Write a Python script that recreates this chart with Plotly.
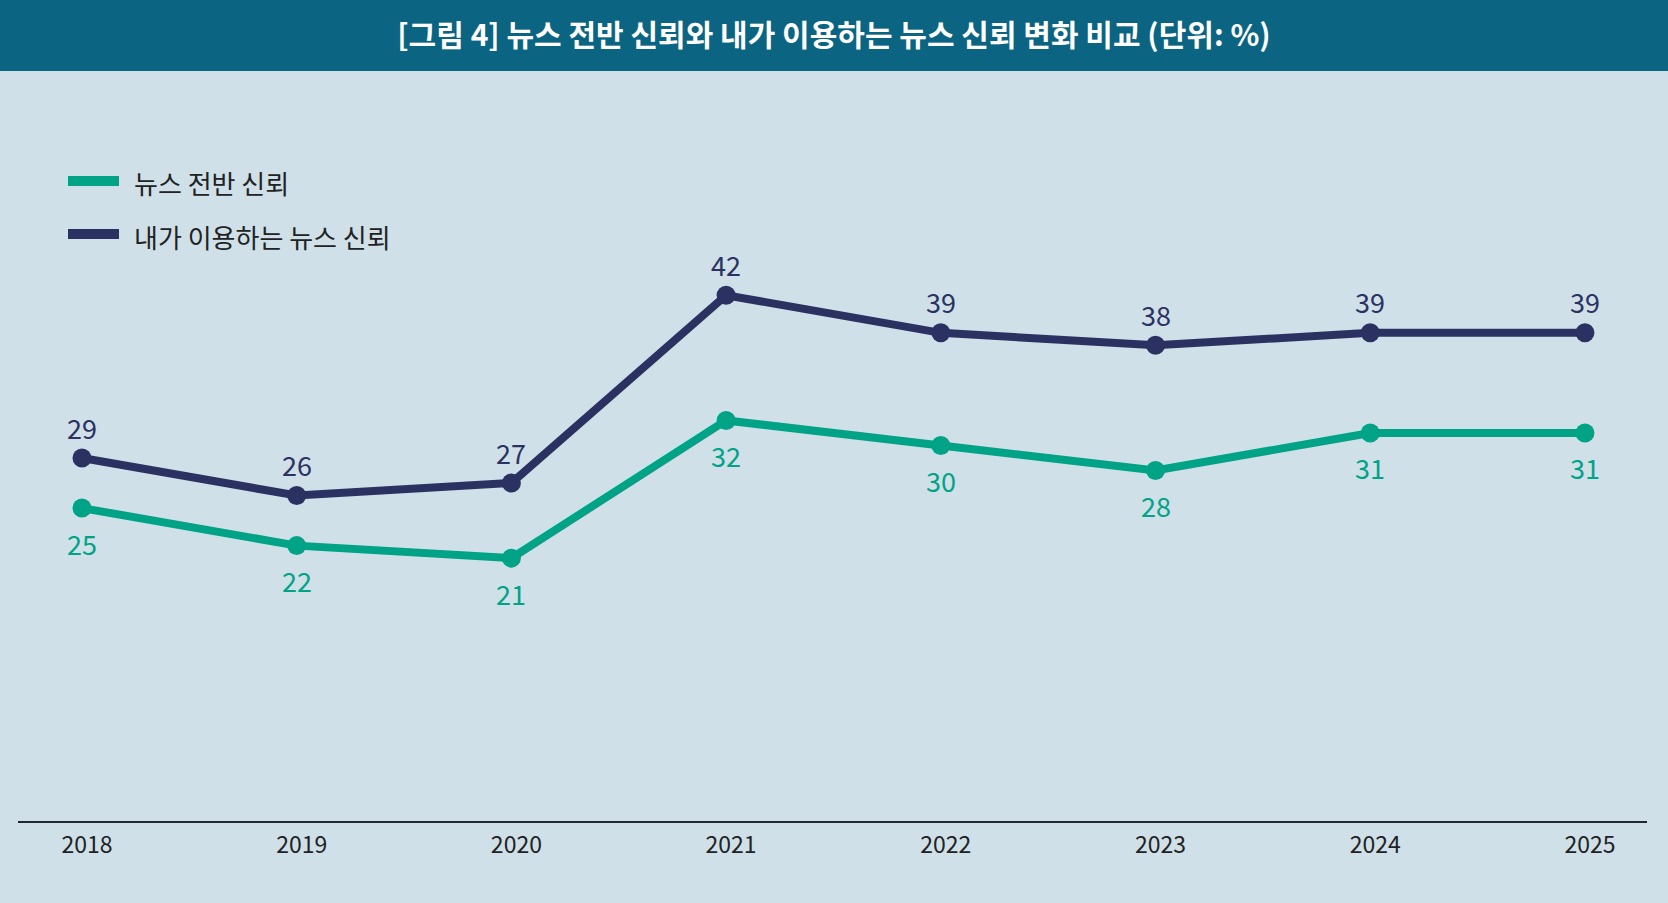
import plotly.graph_objects as go

# 데이터
years = [2018, 2019, 2020, 2021, 2022, 2023, 2024, 2025]
overall_trust = [25, 22, 21, 32, 30, 28, 31, 31]
my_news_trust = [29, 26, 27, 42, 39, 38, 39, 39]

series_names = ["뉴스 전반 신뢰", "내가 이용하는 뉴스 신뢰"]
title_text = "[그림 4] 뉴스 전반 신뢰와 내가 이용하는 뉴스 신뢰 변화 비교 (단위: %)"

GREEN = "#00a386"
NAVY = "#2b3262"
BG = "#cfe0e8"
HEADER = "#0b6481"
FONT = "Noto Sans CJK KR"

W, H = 1668, 903
L, R, T, B = 18, 21, 100, 82


def px_x(p):
    # 픽셀 -> paper 좌표 (가로)
    return (p - L) / (W - L - R)


def px_y(p):
    # 픽셀 -> paper 좌표 (세로)
    return (H - B - p) / (H - T - B)


fig = go.Figure()

fig.add_trace(go.Scatter(
    x=years, y=overall_trust, mode="lines+markers",
    name=series_names[0], showlegend=False,
    line=dict(color=GREEN, width=8),
    marker=dict(color=GREEN, size=19),
    cliponaxis=False,
))

fig.add_trace(go.Scatter(
    x=years, y=my_news_trust, mode="lines+markers",
    name=series_names[1], showlegend=False,
    line=dict(color=NAVY, width=8),
    marker=dict(color=NAVY, size=19),
    cliponaxis=False,
))

# 값 레이블
for yr, v in zip(years, overall_trust):
    fig.add_annotation(x=yr, y=v, text=str(v), showarrow=False, yshift=-35,
                       font=dict(family=FONT, size=27, color=GREEN))
for yr, v in zip(years, my_news_trust):
    fig.add_annotation(x=yr, y=v, text=str(v), showarrow=False, yshift=31,
                       font=dict(family=FONT, size=27, color=NAVY))

# 상단 헤더 띠
fig.add_shape(type="rect", xref="paper", yref="paper",
              x0=-0.1, x1=1.1, y0=px_y(71), y1=1.3,
              fillcolor=HEADER, line=dict(width=0), layer="below")

# 범례 (수동)
for name, color, yp in [(series_names[0], GREEN, 181), (series_names[1], NAVY, 234)]:
    fig.add_shape(type="line", xref="paper", yref="paper",
                  x0=px_x(68), x1=px_x(119), y0=px_y(yp), y1=px_y(yp),
                  line=dict(color=color, width=10))
    fig.add_annotation(text=name, xref="paper", yref="paper",
                       x=px_x(132), y=px_y(yp + 2), xanchor="left", yanchor="middle",
                       showarrow=False, font=dict(family=FONT, size=26, color="#222222"))

fig.update_layout(
    width=W, height=H,
    margin=dict(l=L, r=R, t=T, b=B),
    paper_bgcolor=BG, plot_bgcolor=BG,
    title=dict(text=title_text, x=0.5, xanchor="center", xref="container",
               y=1 - 35 / H, yanchor="middle",
               font=dict(family=FONT, size=30, color="white", weight="bold")),
    xaxis=dict(range=[2017.702, 2025.289], tickvals=years, ticktext=[str(y) for y in years],
               showgrid=False, zeroline=False, showline=True, linecolor="#1f2a30", linewidth=2,
               ticks="", ticklabelshift=5, ticklabelstandoff=2,
               tickfont=dict(family=FONT, size=23, color="#222222")),
    yaxis=dict(range=[0, 57.6], visible=False, showgrid=False, zeroline=False),
    showlegend=False,
)

fig.write_html("out.html", config={"displayModeBar": False},
               post_script="document.body.style.margin='0';document.body.style.overflow='hidden';")
